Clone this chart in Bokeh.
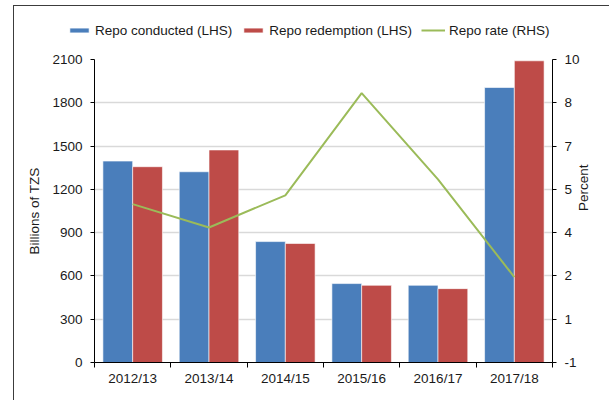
import math
import numpy as np
from bokeh.plotting import figure
from bokeh.layouts import column
from bokeh.models import (ColumnDataSource, Range1d, LinearAxis, FixedTicker,
                          NumeralTickFormatter, Legend, LegendItem)
from bokeh.embed import file_html
from bokeh.resources import INLINE

categories = ["2012/13", "2013/14", "2014/15", "2015/16", "2016/17", "2017/18"]
repo_conducted = [1396, 1322, 838, 547, 535, 1906]
repo_redemption = [1357, 1473, 825, 535, 512, 2091]
repo_rate = [4.75, 3.9, 5.07, 8.78, 5.65, 2.1]
left_ticks = [0, 300, 600, 900, 1200, 1500, 1800, 2100]
rate_min, rate_max = -1, 10

FONT = "Liberation Sans"
FS = "13.5px"
TXT = "#1a1a1a"
BLUE, RED, GREEN = "#4A7EBB", "#BE4B48", "#9BBB59"
W, H_LEG, H_MAIN = 609, 48, 352

n = len(categories)
centers = np.arange(n) + 0.5
bw = 0.39
src = ColumnDataSource(dict(
    x=centers, xc=centers - bw / 2, xr=centers + bw / 2,
    conducted=repo_conducted, redemption=repo_redemption, rate=repo_rate))

# ---------------- main chart ----------------
p = figure(width=W, height=H_MAIN, x_range=Range1d(0, n),
           y_range=Range1d(0, left_ticks[-1]),
           output_backend="svg", toolbar_location=None,
           min_border_left=94, min_border_right=57,
           min_border_top=11, min_border_bottom=38)
p.frame_align = False
p.extra_y_ranges = {"rate": Range1d(rate_min, rate_max)}
p.outline_line_color = None
p.border_fill_alpha = 0

xa = p.xaxis[0]
xa.ticker = FixedTicker(ticks=list(centers), minor_ticks=list(range(n + 1)))
xa.major_label_overrides = {float(c): cat for c, cat in zip(centers, categories)}
xa.major_tick_out = 0
xa.major_tick_in = 0
xa.minor_tick_out = 5
xa.minor_tick_in = 0
xa.minor_tick_line_color = "black"
xa.major_label_standoff = 3
p.xgrid.visible = False

ya = p.yaxis[0]
lt = FixedTicker(ticks=left_ticks, minor_ticks=[])
ya.ticker = lt
p.ygrid.ticker = lt
ya.major_tick_out = 4
ya.major_tick_in = 0
ya.minor_tick_line_color = None
ya.major_label_standoff = 8
ya.axis_label = "Billions of TZS"
ya.axis_label_standoff = 7
p.ygrid.grid_line_color = "#d9d9d9"
p.ygrid.grid_line_width = 1.5

ra = LinearAxis(y_range_name="rate",
                ticker=FixedTicker(ticks=list(np.linspace(rate_min, rate_max, len(left_ticks))),
                                   minor_ticks=[]),
                formatter=NumeralTickFormatter(format="0"),
                axis_label="Percent", axis_label_orientation=math.pi / 2)
ra.major_tick_out = 4
ra.major_tick_in = 0
ra.major_label_standoff = 8
ra.axis_label_standoff = 1
p.add_layout(ra, "right")

for ax in [xa, ya, ra]:
    ax.major_label_text_font = FONT
    ax.major_label_text_font_size = FS
    ax.major_label_text_color = TXT
    ax.axis_label_text_font = FONT
    ax.axis_label_text_font_size = FS
    ax.axis_label_text_font_style = "normal"
    ax.axis_label_text_color = TXT
    ax.axis_line_color = "black"
    ax.major_tick_line_color = "black"

p.vbar(x="xc", top="conducted", width=bw, source=src,
       fill_color=BLUE, line_color="white", line_alpha=0.6, line_width=1)
p.vbar(x="xr", top="redemption", width=bw, source=src,
       fill_color=RED, line_color="white", line_alpha=0.6, line_width=1)
p.line(x="x", y="rate", source=src, y_range_name="rate",
       line_color=GREEN, line_width=2)

# ---------------- legend strip ----------------
lf = figure(width=W, height=H_LEG, x_range=Range1d(0, W), y_range=Range1d(0, H_LEG),
            output_backend="svg", toolbar_location=None,
            x_axis_type=None, y_axis_type=None,
            min_border=0, min_border_left=0, min_border_right=0,
            min_border_top=0, min_border_bottom=0)
lf.frame_align = False
lf.grid.visible = False
lf.outline_line_color = None
lf.background_fill_alpha = 0
lf.border_fill_alpha = 0
nan = float("nan")
dummy = ColumnDataSource(dict(x=[nan], top=[nan], y=[nan]))
l1 = lf.vbar(x="x", top="top", width=1, source=dummy, fill_color=BLUE, line_color="white", line_alpha=0.6)
l2 = lf.vbar(x="x", top="top", width=1, source=dummy, fill_color=RED, line_color="white", line_alpha=0.6)
l3 = lf.line(x="x", y="y", source=dummy, line_color=GREEN, line_width=2)

legend = Legend(items=[LegendItem(label="Repo conducted (LHS)", renderers=[l1]),
                       LegendItem(label="Repo redemption (LHS)", renderers=[l2]),
                       LegendItem(label="Repo rate (RHS)", renderers=[l3])],
                location=(67, 10), orientation="horizontal",
                glyph_width=24, glyph_height=6, label_standoff=4, spacing=9,
                padding=0, margin=0, border_line_color=None,
                background_fill_alpha=0, label_height=16,
                label_text_font=FONT, label_text_font_size=FS,
                label_text_color=TXT)
lf.add_layout(legend)

layout = column(lf, p, spacing=0)
layout.styles = {
    "background": ("linear-gradient(#3c3c3c, #3c3c3c) 13px 5px / 1px 100% no-repeat, "
                   "linear-gradient(#3c3c3c, #3c3c3c) 13px 5px / 100% 1px no-repeat, white"),
}

open("out.html", "w").write(file_html(layout, INLINE))
